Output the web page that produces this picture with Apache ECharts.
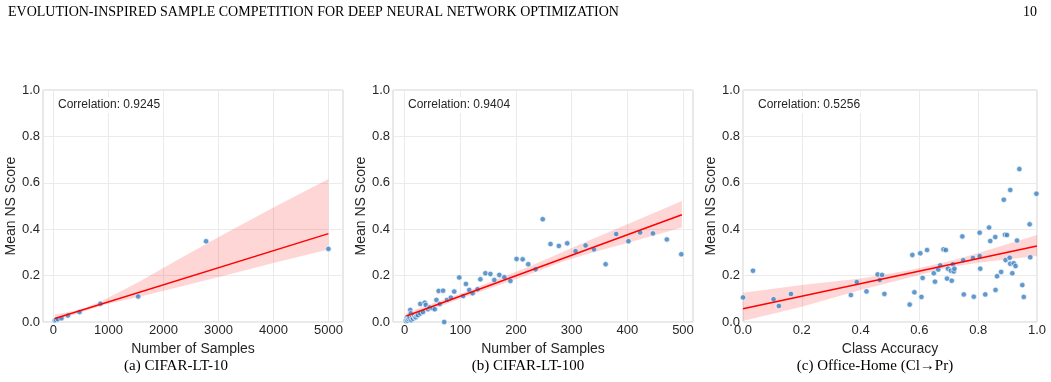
<!DOCTYPE html>
<html>
<head>
<meta charset="utf-8">
<script src="https://cdn.jsdelivr.net/npm/echarts@6/dist/echarts.min.js"></script>
<style>
  html, body { margin: 0; padding: 0; background: #fff; }
  #main { width: 1051px; height: 382px; }
</style>
</head>
<body>
<div id="main"></div>
<script>
// (a) CIFAR-LT-10 : samples per class vs mean NS score
var cifar10X = [25, 45, 81, 146, 263, 474, 855, 1540, 2775, 5000];
var cifar10Y = [0.006, 0.009, 0.012, 0.016, 0.028, 0.043, 0.079, 0.110, 0.348, 0.315];
var cifar10Fit = [[25, 0.015], [5000, 0.381]];
// [x, lower, upper] of the confidence band
var cifar10Band = [[25, 0.004, 0.032], [485, 0.040, 0.053], [880, 0.072, 0.090], [1550, 0.108, 0.172],
  [2300, 0.152, 0.274], [3030, 0.195, 0.370], [4000, 0.254, 0.494], [5000, 0.313, 0.616]];

// (b) CIFAR-LT-100
var cifar100Pts = [
  [2, 0.004], [3, 0.010], [4, 0.020], [5, 0.006], [6, 0.015], [7, 0.012], [8, 0.024], [9, 0.017],
  [10, 0.052], [11, 0.037], [12, 0.008], [13, 0.020], [15, 0.014], [17, 0.026], [19, 0.019], [20, 0.021],
  [22, 0.028], [24, 0.030], [28, 0.037], [28, 0.078], [33, 0.043], [36, 0.083], [38, 0.073], [42, 0.055],
  [45, 0.063], [50, 0.059], [54, 0.055], [57, 0.095], [61, 0.134], [63, 0.078], [69, 0.135], [71, 0.0],
  [76, 0.095], [83, 0.105], [89, 0.131], [98, 0.192], [105, 0.112], [110, 0.164], [116, 0.138], [122, 0.124],
  [131, 0.141], [136, 0.184], [145, 0.210], [154, 0.207], [161, 0.181], [170, 0.203], [179, 0.193], [190, 0.177],
  [201, 0.272], [212, 0.270], [222, 0.249], [235, 0.227], [248, 0.443], [262, 0.336], [277, 0.328], [292, 0.339],
  [307, 0.305], [325, 0.330], [340, 0.313], [361, 0.249], [380, 0.379], [402, 0.348], [423, 0.386], [446, 0.382],
  [471, 0.356], [497, 0.292]
];
var cifar100Fit = [[3, 0.026], [498, 0.462]];
var cifar100Band = [[3, 0.012, 0.040], [100, 0.100, 0.122], [226, 0.207, 0.241], [286, 0.262, 0.304],
  [333, 0.296, 0.353], [400, 0.340, 0.421], [498, 0.407, 0.522]];

// (c) Office-Home (Cl->Pr) : class accuracy vs mean NS score
var officePts = [
  [0.0, 0.106], [0.034, 0.221], [0.104, 0.098], [0.122, 0.069], [0.163, 0.121], [0.367, 0.116], [0.387, 0.172],
  [0.42, 0.132], [0.458, 0.205], [0.473, 0.203], [0.465, 0.181], [0.481, 0.121], [0.567, 0.075], [0.576, 0.289],
  [0.583, 0.128], [0.603, 0.296], [0.607, 0.108], [0.611, 0.190], [0.626, 0.310], [0.649, 0.210], [0.653, 0.174],
  [0.664, 0.226], [0.671, 0.244], [0.682, 0.313], [0.690, 0.310], [0.694, 0.187], [0.697, 0.230], [0.707, 0.221],
  [0.710, 0.178], [0.714, 0.249], [0.717, 0.218], [0.719, 0.230], [0.746, 0.369], [0.749, 0.266], [0.751, 0.119],
  [0.782, 0.276], [0.785, 0.109], [0.805, 0.385], [0.805, 0.284], [0.807, 0.230], [0.824, 0.119], [0.837, 0.407],
  [0.841, 0.349], [0.859, 0.138], [0.858, 0.366], [0.864, 0.197], [0.878, 0.216], [0.887, 0.527], [0.891, 0.376],
  [0.893, 0.267], [0.898, 0.375], [0.907, 0.277], [0.909, 0.251], [0.909, 0.569], [0.916, 0.210], [0.921, 0.253],
  [0.927, 0.241], [0.932, 0.351], [0.940, 0.659], [0.950, 0.159], [0.955, 0.108], [0.975, 0.421], [0.977, 0.279],
  [0.998, 0.553]
];
var officeFit = [[0.0, 0.057], [1.0, 0.328]];
var officeBand = [[0.0, 0.004, 0.126], [0.2, 0.066, 0.159], [0.4, 0.138, 0.188], [0.57, 0.193, 0.224],
  [0.7, 0.235, 0.262], [0.8, 0.255, 0.297], [1.0, 0.284, 0.375]];

var correlations = ['Correlation: 0.9245', 'Correlation: 0.9404', 'Correlation: 0.5256'];
var captions = ['(a) CIFAR-LT-10', '(b) CIFAR-LT-100', '(c) Office-Home (Cl\u2192Pr)'];
var xNames = ['Number of Samples', 'Number of Samples', 'Class Accuracy'];
var cifar10Ticks = [0, 1000, 2000, 3000, 4000, 5000];
var cifar100Ticks = [0, 100, 200, 300, 400, 500];

var sans = "'Liberation Sans', Arial, sans-serif";
var serif = "'Liberation Serif', 'Times New Roman', serif";
var dark = '#262626';

var chart = echarts.init(document.getElementById('main'), null, { renderer: 'canvas' });

var grids = [
  { left: 43, top: 90, width: 300, height: 232 },
  { left: 393, top: 90, width: 300, height: 232 },
  { left: 743, top: 90, width: 294, height: 232 }
];
grids.forEach(function (g) {
  g.show = true;
  g.borderColor = '#d2d2d2';
  g.borderWidth = 1;
  g.backgroundColor = '#fff';
});

function xAxis(i, min, max, ticks) {
  var ax = {
    type: 'value', gridIndex: i, min: min, max: max,
    name: xNames[i], nameLocation: 'middle', nameGap: 12,
    nameTextStyle: { fontFamily: sans, fontSize: 14, color: dark },
    axisLine: { show: false },
    axisLabel: { fontFamily: sans, fontSize: 13, color: dark, margin: 2 },
    splitLine: { show: true, lineStyle: { color: '#ebebeb', width: 1 } }
  };
  if (ticks) {
    ax.axisTick = { show: false, customValues: ticks };
    ax.axisLabel.customValues = ticks;
    ax.axisLabel.formatter = function (v) { return String(v); };
  } else {
    ax.interval = 0.2;
    ax.axisTick = { show: false };
    ax.axisLabel.formatter = function (v) { return v.toFixed(1); };
  }
  return ax;
}

function yAxis(i) {
  return {
    type: 'value', gridIndex: i, min: 0, max: 1, interval: 0.2,
    name: 'Mean NS Score', nameLocation: 'middle', nameGap: 22, nameRotate: 90,
    nameTextStyle: { fontFamily: sans, fontSize: 14, color: dark },
    axisLine: { show: false },
    axisTick: { show: false },
    axisLabel: { fontFamily: sans, fontSize: 13, color: dark, margin: 3,
      formatter: function (v) { return v.toFixed(1); } },
    splitLine: { show: true, lineStyle: { color: '#ebebeb', width: 1 } }
  };
}

function band(i, rows) {
  return {
    type: 'custom', xAxisIndex: i, yAxisIndex: i, clip: true, silent: true, z: 2,
    data: rows,
    encode: { x: 0, y: [1, 2] },
    renderItem: function (params, api) {
      if (params.dataIndex !== 0) return null;
      var pts = [];
      rows.forEach(function (r) { pts.push(api.coord([r[0], r[2]])); });
      rows.slice().reverse().forEach(function (r) { pts.push(api.coord([r[0], r[1]])); });
      return { type: 'polygon', shape: { points: pts }, style: { fill: 'rgba(255,0,0,0.16)' } };
    }
  };
}

function scatter(i, data) {
  return {
    type: 'scatter', xAxisIndex: i, yAxisIndex: i, data: data, z: 3,
    symbol: 'circle', symbolSize: 5.5,
    itemStyle: { color: '#3b7fc0', borderColor: '#ffffff', borderWidth: 0.8 }
  };
}

function fit(i, data) {
  return {
    type: 'line', xAxisIndex: i, yAxisIndex: i, data: data, z: 4,
    showSymbol: false, silent: true,
    lineStyle: { color: '#ff0000', width: 1.5 }
  };
}

var cifar10Pts = cifar10X.map(function (x, k) { return [x, cifar10Y[k]]; });

var graphics = [
  { type: 'text', left: 8, top: 5, style: { text: 'EVOLUTION-INSPIRED SAMPLE COMPETITION FOR DEEP NEURAL NETWORK OPTIMIZATION', font: '14px ' + serif, fill: '#000' } },
  { type: 'text', right: 14, top: 5, style: { text: '10', font: '14px ' + serif, fill: '#000' } }
];
var corrX = [55, 405, 755];
var capX = [176, 528, 875];
correlations.forEach(function (t, i) {
  graphics.push({ type: 'text', x: corrX[i], y: 105, z: 10, style: { text: t, font: '12px ' + sans, fill: dark,
    verticalAlign: 'middle', backgroundColor: '#fff', padding: [2, 3] } });
});
captions.forEach(function (t, i) {
  graphics.push({ type: 'text', x: capX[i], y: 366, style: { text: t, font: '15px ' + serif, fill: '#000', align: 'center', verticalAlign: 'middle' } });
});

chart.setOption({
  animation: false,
  grid: grids,
  xAxis: [
    xAxis(0, -190, 5265, cifar10Ticks),
    xAxis(1, -21, 518, cifar100Ticks),
    xAxis(2, 0, 1, null)
  ],
  yAxis: [yAxis(0), yAxis(1), yAxis(2)],
  graphic: graphics,
  series: [
    band(0, cifar10Band), scatter(0, cifar10Pts), fit(0, cifar10Fit),
    band(1, cifar100Band), scatter(1, cifar100Pts), fit(1, cifar100Fit),
    band(2, officeBand), scatter(2, officePts), fit(2, officeFit)
  ]
});
</script>
</body>
</html>
